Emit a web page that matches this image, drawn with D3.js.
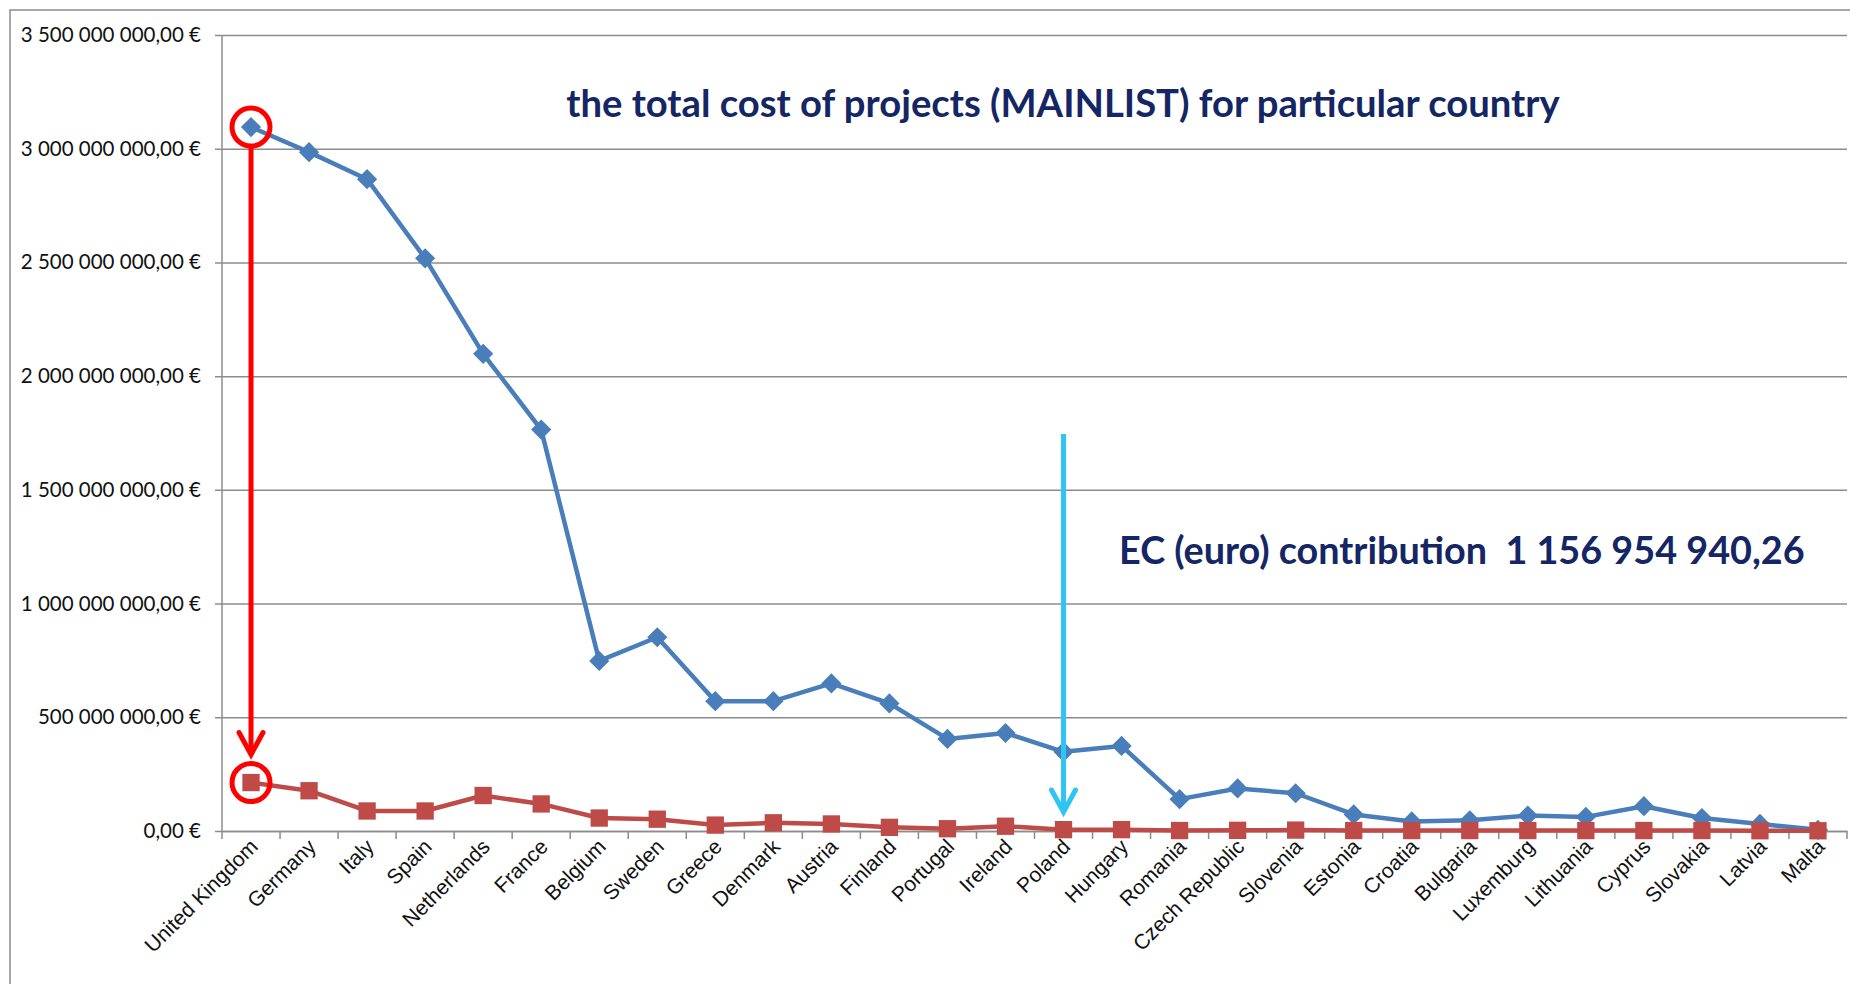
<!DOCTYPE html>
<html>
<head>
	<meta http-equiv="Content-Type" content="text/html;charset=UTF-8">
	<title>Total cost of projects per country</title>
	<style>
		html, body { margin: 0; padding: 0; background: #fff; }
		svg { display: block; font-family: Lato, "Open Sans", sans-serif; }
		.grid line { stroke: #8c8c8c; stroke-width: 1.5; }
		.grid path { display: none; }
		.y-axis text, .x-axis text { fill: #111; }
	</style>
</head>
<body>
	<div class="drawing"></div>

	<script src="https://d3js.org/d3.v7.min.js"></script>
	<script type="text/javascript">
		var w = 1850;
		var h = 984;

		/* data */
		var categories = ["United Kingdom", "Germany", "Italy", "Spain", "Netherlands", "France",
			"Belgium", "Sweden", "Greece", "Denmark", "Austria", "Finland", "Portugal", "Ireland",
			"Poland", "Hungary", "Romania", "Czech Republic", "Slovenia", "Estonia", "Croatia",
			"Bulgaria", "Luxemburg", "Lithuania", "Cyprus", "Slovakia", "Latvia", "Malta"];
		var totalCost = [3095e6, 2985e6, 2866e6, 2518e6, 2098e6, 1765e6,
			748e6, 852e6, 571e6, 571e6, 649e6, 561e6, 405e6, 431e6,
			348e6, 374e6, 140e6, 187e6, 166e6, 73e6, 42e6,
			47e6, 68e6, 62e6, 109e6, 57e6, 31e6, 5e6];
		var ecContribution = [213e6, 177e6, 88e6, 88e6, 156e6, 119e6,
			57e6, 52e6, 26e6, 36e6, 31e6, 16e6, 10e6, 21e6,
			6e6, 6e6, 2e6, 3e6, 4e6, 2e6, 2e6,
			2e6, 2e6, 2e6, 2e6, 2e6, 1e6, 1e6];
		var yTickValues = [0, 500e6, 1000e6, 1500e6, 2000e6, 2500e6, 3000e6, 3500e6];

		var titleText = "the total cost of projects (MAINLIST) for particular country";
		var ecText = "EC (euro) contribution  1 156 954 940,26";
		var arrowCountry = "Poland";

		var margin = { left: 222, right: 3, top: 35, bottom: 153 };

		var euro = d3.formatLocale({ decimal: ",", thousands: " ", grouping: [3], currency: ["", " €"] });
		var fmt = euro.format("$,.2f");

		var SVG = d3.select("div.drawing").append("svg")
			.attr("width", w)
			.attr("height", h);

		/* outer frame */
		SVG.append("rect")
			.attr("x", 10).attr("y", 10)
			.attr("width", w).attr("height", h)
			.attr("fill", "none")
			.attr("stroke", "#8c8c8c")
			.attr("stroke-width", 1.5);

		var XScale = d3.scaleBand()
			.domain(categories)
			.range([margin.left, w - margin.right]);
		var YScale = d3.scaleLinear()
			.domain([0, 3500e6])
			.range([h - margin.bottom, margin.top]);
		var cx = function(c){ return XScale(c) + XScale.bandwidth() / 2; };

		/* y axis with grid lines */
		var yAxis = d3.axisLeft(YScale)
			.tickValues(yTickValues)
			.tickFormat(fmt)
			.tickSize(-(w - margin.right - margin.left))
			.tickPadding(21);
		var gy = SVG.append("g")
			.attr("class", "grid y-axis")
			.attr("transform", "translate(" + margin.left + ",0)")
			.call(yAxis);
		gy.selectAll(".tick line").attr("x1", -7);
		gy.selectAll("text")
			.attr("font-size", 20.5)
			.attr("font-family", "Lato, sans-serif");

		/* left axis line */
		SVG.append("line")
			.attr("x1", margin.left).attr("x2", margin.left)
			.attr("y1", YScale(3500e6)).attr("y2", YScale(0))
			.attr("stroke", "#8c8c8c").attr("stroke-width", 1.5);

		/* x axis */
		var xAxis = d3.axisBottom(XScale).tickSize(0).tickPadding(0);
		var gx = SVG.append("g")
			.attr("class", "x-axis")
			.attr("transform", "translate(0," + YScale(0) + ")")
			.call(xAxis);
		gx.select(".domain").attr("stroke", "#8c8c8c").attr("stroke-width", 1.5);
		gx.selectAll("text")
			.attr("font-size", 21)
			.attr("text-anchor", "end")
			.attr("dy", 0)
			.attr("transform", "translate(8,17) rotate(-45)");

		/* ticks between categories */
		var bounds = categories.map(function(c){ return XScale(c); }).concat([w - margin.right]);
		gx.selectAll("line.sep")
			.data(bounds)
			.enter().append("line")
			.attr("class", "sep")
			.attr("x1", function(d){ return d; }).attr("x2", function(d){ return d; })
			.attr("y1", 0).attr("y2", 8)
			.attr("stroke", "#8c8c8c").attr("stroke-width", 1.5);

		/* series */
		function drawSeries(values, color, symbol, size) {
			var pts = categories.map(function(c, i){ return [cx(c), YScale(values[i])]; });
			SVG.append("path")
				.attr("d", d3.line()(pts))
				.attr("fill", "none")
				.attr("stroke", color)
				.attr("stroke-width", 4.5)
				.attr("stroke-linejoin", "round");
			SVG.append("g").selectAll("path")
				.data(pts)
				.enter().append("path")
				.attr("transform", function(d){ return "translate(" + d[0] + "," + d[1] + ")"; })
				.attr("d", d3.symbol().type(symbol).size(size))
				.attr("fill", color);
		}
		drawSeries(totalCost, "#4a7ebb", d3.symbolDiamond2, 260);
		drawSeries(ecContribution, "#be4b48", d3.symbolSquare, 300);

		/* red annotation: circles + arrow from total cost to EC contribution */
		var ukX = cx(categories[0]);
		var topY = YScale(totalCost[0]);
		var botY = YScale(ecContribution[0]);
		[topY, botY].forEach(function(y){
			SVG.append("circle")
				.attr("cx", ukX).attr("cy", y).attr("r", 19)
				.attr("fill", "none").attr("stroke", "#ff0000").attr("stroke-width", 5);
		});
		function arrow(x, y1, y2, color) {
			SVG.append("line")
				.attr("x1", x).attr("x2", x)
				.attr("y1", y1).attr("y2", y2)
				.attr("stroke", color).attr("stroke-width", 5);
			SVG.append("path")
				.attr("d", "M" + (x - 12) + "," + (y2 - 22) + "L" + x + "," + y2 + "L" + (x + 12) + "," + (y2 - 22))
				.attr("fill", "none")
				.attr("stroke", color)
				.attr("stroke-width", 5)
				.attr("stroke-linecap", "round");
		}
		arrow(ukX, topY + 21, botY - 28, "#ff0000");

		/* cyan arrow to Poland */
		arrow(cx(arrowCountry), 434, 812, "#2ec5f5");

		/* texts */
		function fitText(t, x, y, size, width, anchor) {
			var el = SVG.append("text")
				.attr("x", x).attr("y", y)
				.attr("text-anchor", anchor)
				.attr("font-family", "Lato, sans-serif")
				.attr("font-weight", "bold")
				.attr("font-size", size)
				.attr("fill", "#142663")
				.style("white-space", "pre")
				.text(t);
			var len = el.node().getComputedTextLength();
			el.attr("font-size", size * width / len);
			return el;
		}
		fitText(titleText, 1063, 117, 34, 994, "middle");
		fitText(ecText, 1119, 564, 34, 686, "start");
	</script>
</body>
</html>
